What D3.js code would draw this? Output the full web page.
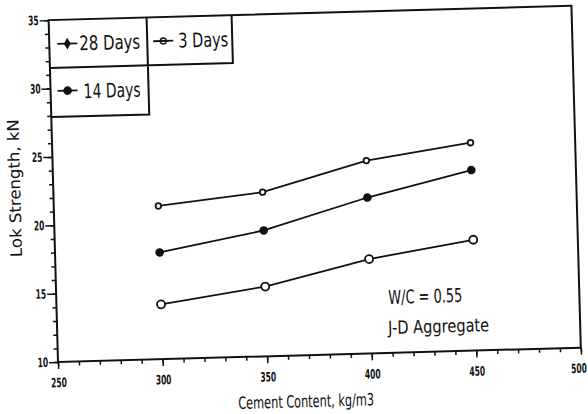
<!DOCTYPE html>
<html>
<head>
<meta charset="utf-8">
<script src="https://cdn.jsdelivr.net/npm/d3@7/dist/d3.min.js"></script>
<style>
  html, body { margin: 0; padding: 0; background: #fff; }
  svg { display: block; }
</style>
</head>
<body>
<svg id="chart" width="588" height="414"></svg>
<script>
// ---- data ----
const cementContent = [300, 350, 400, 450];
const days28 = [21.2, 22.0, 24.1, 25.2];
const days14 = [17.8, 19.2, 21.4, 23.2];
const days3  = [14.0, 15.1, 16.9, 18.1];
const seriesNames = ["28 Days", "14 Days", "3 Days"];
const xTicks = [250, 300, 350, 400, 450, 500];
const yTicks = [10, 15, 20, 25, 30, 35];
const xTitle = "Cement Content, kg/m3";
const yTitle = "Lok Strength, kN";
const notes = ["W/C = 0.55", "J-D Aggregate"];

const series = [
  { name: seriesNames[0], values: days28, marker: "smallOpen" },
  { name: seriesNames[1], values: days14, marker: "filled" },
  { name: seriesNames[2], values: days3,  marker: "open" }
];

const svg = d3.select("#chart");
const pLeft = 58, pRight = 581, pTop = 20, pBottom = 362;
// the scanned figure is slightly tilted
const g = svg.append("g").attr("transform", `rotate(-1.57, ${pLeft}, ${pBottom})`);

const x = d3.scaleLinear().domain([250, 500]).range([pLeft, pRight]);
const y = d3.scaleLinear().domain([10, 35]).range([pBottom, pTop]);

const font = '"DejaVu Sans", sans-serif';
const ink = "#111";

// condense a text horizontally around its anchor point
function condense(sel, f) {
  sel.each(function () {
    const t = d3.select(this);
    const x0 = +(t.attr("x") || 0);
    t.attr("x", 0).attr("transform", `translate(${x0},0) scale(${f},1)`);
  });
}
// place a text at (tx,ty) and squeeze it to a given width
function fitText(parent, str, tx, ty, size, width, anchor) {
  const t = parent.append("text").attr("font-family", font).attr("font-size", size)
    .attr("fill", ink).attr("text-anchor", anchor || "start").text(str);
  const w = t.node().getComputedTextLength();
  t.attr("transform", `translate(${tx},${ty}) scale(${width / w},1)`);
  return t;
}

// frame
g.append("rect").attr("x", pLeft).attr("y", pTop).attr("width", pRight - pLeft).attr("height", pBottom - pTop)
  .attr("fill", "none").attr("stroke", ink).attr("stroke-width", 2);

// y axis minor
const yMinor = g.append("g").attr("transform", `translate(${pLeft},0)`)
  .call(d3.axisLeft(y).tickValues(d3.range(10, 36, 1)).tickSize(4).tickSizeOuter(0).tickFormat(""));
yMinor.select(".domain").remove();
yMinor.selectAll("line").attr("stroke", ink).attr("stroke-width", 1.5);

const yMajor = g.append("g").attr("transform", `translate(${pLeft},0)`)
  .call(d3.axisLeft(y).tickValues(yTicks).tickSize(9).tickSizeOuter(0).tickPadding(1));
yMajor.select(".domain").remove();
yMajor.selectAll("line").attr("stroke", ink).attr("stroke-width", 1.5);
yMajor.selectAll("text").attr("font-family", font).attr("font-size", 13).attr("font-weight", "bold").attr("fill", ink);
condense(yMajor.selectAll("text"), 0.58);

// x axis minor
const xMinor = g.append("g").attr("transform", `translate(0,${pBottom})`)
  .call(d3.axisBottom(x).tickValues(d3.range(250, 501, 10)).tickSize(4).tickSizeOuter(0).tickFormat(""));
xMinor.select(".domain").remove();
xMinor.selectAll("line").attr("stroke", ink).attr("stroke-width", 1.5);

const xMajor = g.append("g").attr("transform", `translate(0,${pBottom})`)
  .call(d3.axisBottom(x).tickValues(xTicks).tickSize(7).tickSizeOuter(0).tickPadding(9));
xMajor.select(".domain").remove();
xMajor.selectAll("line").attr("stroke", ink).attr("stroke-width", 1.5);
xMajor.selectAll("text").attr("font-family", font).attr("font-size", 13).attr("font-weight", "bold").attr("fill", ink);
condense(xMajor.selectAll("text"), 0.58);
// keep the last label inside the page
xMajor.selectAll("text").filter(d => d === 500).attr("x", -5);

// titles
fitText(g, xTitle, 305, 414, 17, 136, "middle");
const yt = g.append("text").attr("font-family", font).attr("font-size", 16).attr("fill", ink)
  .attr("text-anchor", "middle").text(yTitle);
const ytw = yt.node().getComputedTextLength();
yt.attr("transform", `translate(25,187) rotate(-90) scale(${138 / ytw},1)`);

// lines
const line = d3.line().x((d, i) => x(cementContent[i])).y(d => y(d));
function drawMarker(sel, type, cx, cy) {
  if (type === "filled") {
    sel.append("circle").attr("cx", cx).attr("cy", cy).attr("r", 4.3).attr("fill", ink);
  } else if (type === "open") {
    sel.append("circle").attr("cx", cx).attr("cy", cy).attr("r", 4).attr("fill", "#fff")
      .attr("stroke", ink).attr("stroke-width", 1.8);
  } else {
    sel.append("circle").attr("cx", cx).attr("cy", cy).attr("r", 2.8).attr("fill", "#fff")
      .attr("stroke", ink).attr("stroke-width", 1.8);
  }
}
series.forEach(s => {
  g.append("path").datum(s.values).attr("d", line).attr("fill", "none")
    .attr("stroke", ink).attr("stroke-width", 1.8);
  s.values.forEach((v, i) => drawMarker(g, s.marker, x(cementContent[i]), y(v)));
});

// legend
const lg = g.append("g");
lg.append("path").attr("d", `M${pLeft},68 H241 V${pTop} M156,${pTop} V117 H${pLeft}`)
  .attr("fill", "none").attr("stroke", ink).attr("stroke-width", 2);
const legendItems = [
  { name: seriesNames[0], mx: 76, my: 44, tx: 88, ty: 51, w: 61, type: "diamond" },
  { name: seriesNames[2], mx: 172, my: 44, tx: 187, ty: 51, w: 50, type: "legendOpen" },
  { name: seriesNames[1], mx: 75, my: 91, tx: 91, ty: 99, w: 57, type: "filled" }
];
legendItems.forEach(it => {
  lg.append("line").attr("x1", it.mx - 10).attr("x2", it.mx + 10).attr("y1", it.my).attr("y2", it.my)
    .attr("stroke", ink).attr("stroke-width", 1.8);
  if (it.type === "diamond") {
    lg.append("path").attr("d", d3.symbol(d3.symbolDiamond, 40)()).attr("transform", `translate(${it.mx},${it.my})`).attr("fill", ink);
  } else if (it.type === "legendOpen") {
    lg.append("circle").attr("cx", it.mx).attr("cy", it.my).attr("r", 3).attr("fill", "none").attr("stroke", ink).attr("stroke-width", 1.3);
  } else {
    lg.append("circle").attr("cx", it.mx).attr("cy", it.my).attr("r", 4.3).attr("fill", ink);
  }
  fitText(lg, it.name, it.tx, it.ty, 20, it.w, "start");
});

// annotations
fitText(g, notes[0], 390, 313, 19, 74, "start");
fitText(g, notes[1], 389, 343, 18, 101, "start");
</script>
</body>
</html>
